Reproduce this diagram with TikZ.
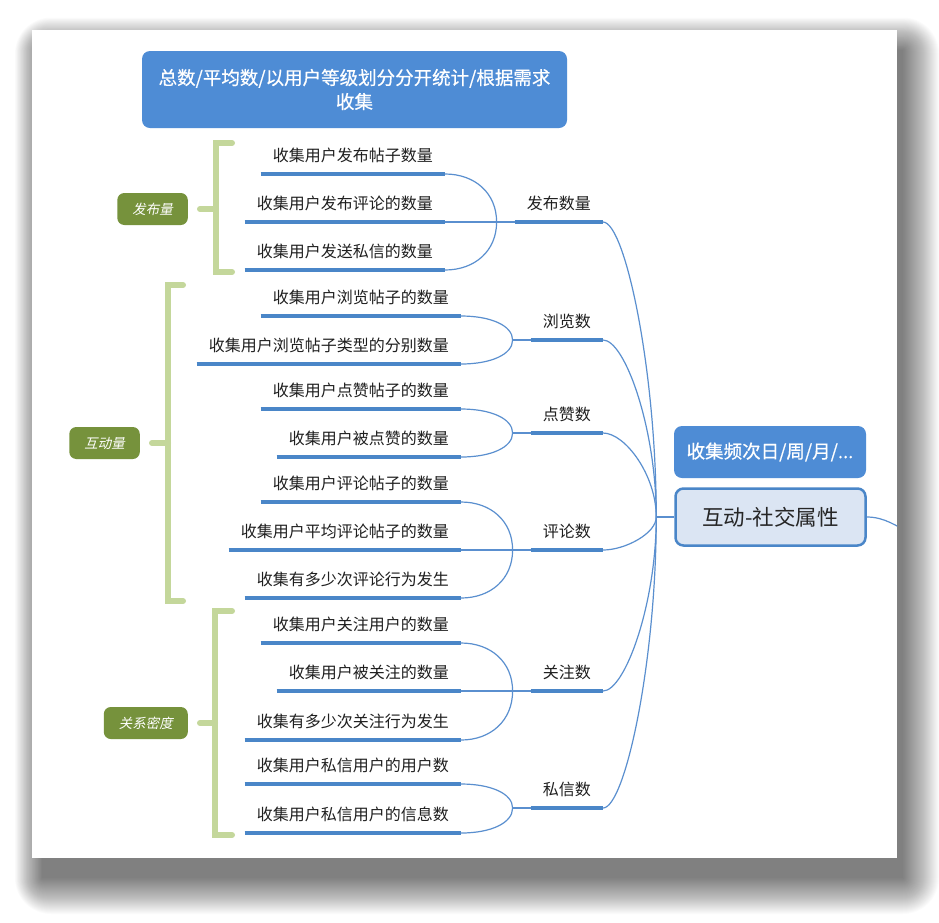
\documentclass[tikz,border=0pt]{standalone}
\usepackage{fontspec}
\setmainfont{Noto Sans CJK SC}
\newfontfamily\cjk{Noto Sans CJK SC}
\newfontfamily\cjkslant[FakeSlant=0.2]{Noto Sans CJK SC}
\newfontfamily\cjkbold[FakeBold=0.6]{Noto Sans CJK SC}
\usetikzlibrary{positioning, calc}

\definecolor{lineblue}{HTML}{4A86C8}
\definecolor{linkblue}{HTML}{5A8FCF}
\definecolor{boxblue}{HTML}{4E8CD5}
\definecolor{rootfill}{HTML}{DBE5F3}
\definecolor{taggreen}{HTML}{76923C}
\definecolor{bracketgreen}{HTML}{C4D79B}

\tikzset{
    leaf/.style={anchor=south east, inner xsep=12pt, inner ysep=0pt, text height=13pt, text depth=12pt,
        font=\cjk\fontsize{16}{19}\selectfont, text=black!88},
    hub/.style={leaf},
    uline/.style={draw=lineblue, line width=3.5pt},
    link/.style={draw=linkblue, line width=1.2pt},
    bracket/.style={draw=bracketgreen, line width=6pt, line cap=round},
    tag/.style={fill=taggreen, rounded corners=7pt, text=white, minimum height=32pt, inner xsep=15pt,
        font=\cjkslant\fontsize{13.5}{16}\selectfont},
    notebox/.style={fill=boxblue, rounded corners=8pt, text=white, align=center,
        font=\cjkbold\fontsize{18.5}{24}\selectfont},
    rootbox/.style={fill=rootfill, draw=lineblue, line width=2.5pt, rounded corners=8pt,
        minimum width=190pt, minimum height=57pt, text=black!85, font=\cjk\fontsize{21.5}{26}\selectfont}
}

\begin{document}
\begin{tikzpicture}[x=1pt, y=-1pt]
    \useasboundingbox (0,0) rectangle (939,922);
    \fill[white] (0,0) rectangle (939,922);
    % card with its shadow
    \foreach \i in {0,...,36}
        \fill[black, opacity=0.017, rounded corners=\i pt] ({42-0.75*\i},{50-0.9*\i}) rectangle ({903+\i},{878+\i});
    \fill[white] (32,30) rectangle (897,858);

    % floating notes and the root
    \node[notebox, minimum width=425pt, minimum height=77pt] (note) at (354.5,89.5) {总数/平均数/以用户等级划分分开统计/根据需求\\收集};
    \node[notebox, minimum width=192pt, minimum height=52pt] (freq) at (770,452) {收集频次日/周/月/...};
    \node[rootbox] (root) at (770.5,517) {互动-社交属性};

    % second level
    \node[hub] (h1) at (603,222) {发布数量};
    \node[hub] (h2) at (603,340) {浏览数};
    \node[hub] (h3) at (603,433) {点赞数};
    \node[hub] (h4) at (603,550) {评论数};
    \node[hub] (h5) at (603,691) {关注数};
    \node[hub] (h6) at (603,808) {私信数};

    % leaves
    \node[leaf] (a1) at (445,174) {收集用户发布帖子数量};
    \node[leaf] (a2) at (445,222) {收集用户发布评论的数量};
    \node[leaf] (a3) at (445,270) {收集用户发送私信的数量};
    \node[leaf] (b1) at (461,316) {收集用户浏览帖子的数量};
    \node[leaf] (b2) at (461,364) {收集用户浏览帖子类型的分别数量};
    \node[leaf] (c1) at (461,409) {收集用户点赞帖子的数量};
    \node[leaf] (c2) at (461,457) {收集用户被点赞的数量};
    \node[leaf] (d1) at (461,502) {收集用户评论帖子的数量};
    \node[leaf] (d2) at (461,550) {收集用户平均评论帖子的数量};
    \node[leaf] (d3) at (461,598) {收集有多少次评论行为发生};
    \node[leaf] (e1) at (461,643) {收集用户关注用户的数量};
    \node[leaf] (e2) at (461,691) {收集用户被关注的数量};
    \node[leaf] (e3) at (461,740) {收集有多少次关注行为发生};
    \node[leaf] (g1) at (461,784) {收集用户私信用户的用户数};
    \node[leaf] (g2) at (461,833) {收集用户私信用户的信息数};

    \foreach \n in {h1,h2,h3,h4,h5,h6,a1,a2,a3,b1,b2,c1,c2,d1,d2,d3,e1,e2,e3,g1,g2}
        \draw[uline] (\n.south west) -- (\n.south east);

    % leaves to their hub
    \foreach \h/\m in {h1/m1, h2/m2, h3/m3, h4/m4, h5/m5, h6/m6} {
        \coordinate (\m) at ([xshift=-18pt]\h.south west);
        \draw[link] (\m) -- (\h.south west);
    }
    \foreach \m/\n in {m1/a1, m1/a3, m2/b1, m2/b2, m3/c1, m3/c2, m4/d1, m4/d3, m5/e1, m5/e3, m6/g1, m6/g2}
        \draw[link] (\m) .. controls ($(\m)!0.6!(\m |- \n.south east)$) and ([xshift=30pt]\n.south east) .. (\n.south east);
    \foreach \m/\n in {m1/a2, m4/d2, m5/e2}
        \draw[link] (\n.south east) -- (\m);

    % hubs to the root
    \coordinate (jn) at ([xshift=-18pt]root.west);
    \draw[link] (jn) -- (root.west);
    \foreach \h in {h1,h2,h3,h4,h5,h6}
        \draw[link] (jn) .. controls ($(jn)!0.5!(jn |- \h.south east)$) and ([xshift=22pt]\h.south east) .. (\h.south east);
    \begin{scope}
        \clip (32,30) rectangle (897,858);
        \coordinate (away) at (912,534);
        \draw[link] (root.east) .. controls +(18,0) and +(-16,-8) .. (away);
    \end{scope}

    % brackets and their tags
    \draw[bracket] (232,143) -- (216,143) -- (216,272) -- (232,272);
    \draw[bracket] (216,209) -- (200,209);
    \coordinate (k1) at (200,209);
    \node[tag, left=12pt of k1] (t1) {发布量};

    \draw[bracket] (183,285) -- (168,285) -- (168,601) -- (183,601);
    \draw[bracket] (168,443) -- (152,443);
    \coordinate (k2) at (152,443);
    \node[tag, left=12pt of k2] (t2) {互动量};

    \draw[bracket] (232,611) -- (215,611) -- (215,835) -- (232,835);
    \draw[bracket] (215,723) -- (200,723);
    \coordinate (k3) at (200,723);
    \node[tag, left=12pt of k3] (t3) {关系密度};
\end{tikzpicture}
\end{document}
